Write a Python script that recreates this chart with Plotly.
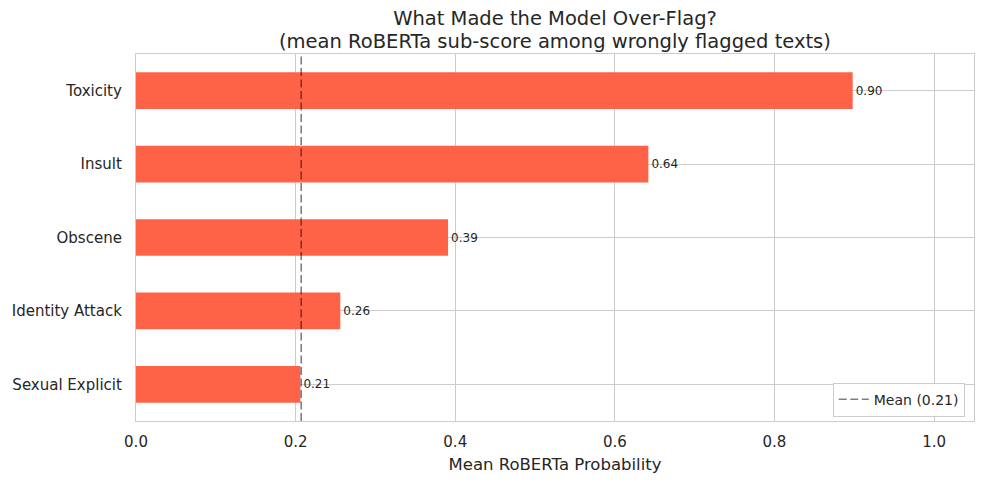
import plotly.graph_objects as go

categories = ["Sexual Explicit", "Identity Attack", "Obscene", "Insult", "Toxicity"]
values = [0.206, 0.256, 0.391, 0.642, 0.898]
mean_value = 0.207
value_labels = [f"{v:.2f}" for v in values]
x_ticks = [0.0, 0.2, 0.4, 0.6, 0.8, 1.0]
title_line1 = "What Made the Model Over-Flag?"
title_line2 = "(mean RoBERTa sub-score among wrongly flagged texts)"

FONT = "DejaVu Sans"
TXT = "#262626"
GRID = "#cccccc"
DASH = "8px,3.5px"

fig = go.Figure()
fig.add_trace(go.Bar(
    y=categories, x=values, orientation="h", width=0.5,
    marker=dict(color="#FF6347", line=dict(width=0)),
    text=value_labels, textposition="outside", cliponaxis=False,
    textfont=dict(family=FONT, size=12, color=TXT),
    showlegend=False,
))
fig.add_vline(x=mean_value, line=dict(color="rgba(0,0,0,0.5)", width=1.6, dash=DASH))
fig.add_trace(go.Scatter(
    x=[None], y=[None], mode="lines",
    line=dict(color="rgba(0,0,0,0.5)", width=1.6, dash=DASH),
    name=f"Mean ({mean_value:.2f})",
))

cx = (136 + 974) / 2 / 984
fig.add_annotation(
    text=title_line2, xref="paper", yref="paper", x=0.5, y=1, xanchor="center",
    yanchor="middle", yshift=54 - 41, showarrow=False,
    font=dict(family=FONT, size=19.5, color=TXT),
)

fig.update_layout(
    width=984, height=483,
    margin=dict(l=136, r=10, t=54, b=62, autoexpand=False),
    plot_bgcolor="white", paper_bgcolor="white",
    font=dict(family=FONT, color=TXT),
    title=dict(
        text=title_line1,
        x=cx, xanchor="center",
        yref="container", y=1 - 18 / 483, yanchor="middle",
        font=dict(family=FONT, size=19.5, color=TXT),
    ),
    xaxis=dict(
        range=[0, 1.05], tickvals=x_ticks, tickformat=".1f", automargin=False,
        showgrid=True, gridcolor=GRID, gridwidth=1,
        zeroline=False, showline=True, linecolor=GRID, linewidth=1.25, mirror=True,
        ticks="", ticklabelstandoff=7, tickfont=dict(size=15, color=TXT),
        title=dict(text="Mean RoBERTa Probability", font=dict(size=16.5, color=TXT), standoff=8),
    ),
    yaxis=dict(
        range=[-0.5, 4.5], categoryorder="array", categoryarray=categories, automargin=False,
        showgrid=True, gridcolor=GRID, gridwidth=1,
        zeroline=False, showline=True, linecolor=GRID, linewidth=1.25, mirror=True,
        ticks="", ticklabelstandoff=10, tickfont=dict(size=15, color=TXT),
    ),
    legend=dict(
        x=0.989, y=0.012, xanchor="right", yanchor="bottom",
        bgcolor="white", bordercolor=GRID, borderwidth=1,
        font=dict(family=FONT, size=14, color=TXT),
    ),
    showlegend=True,
)

fig.write_html("out.html", config={"displayModeBar": False},
               post_script="document.body.style.margin='0';")
